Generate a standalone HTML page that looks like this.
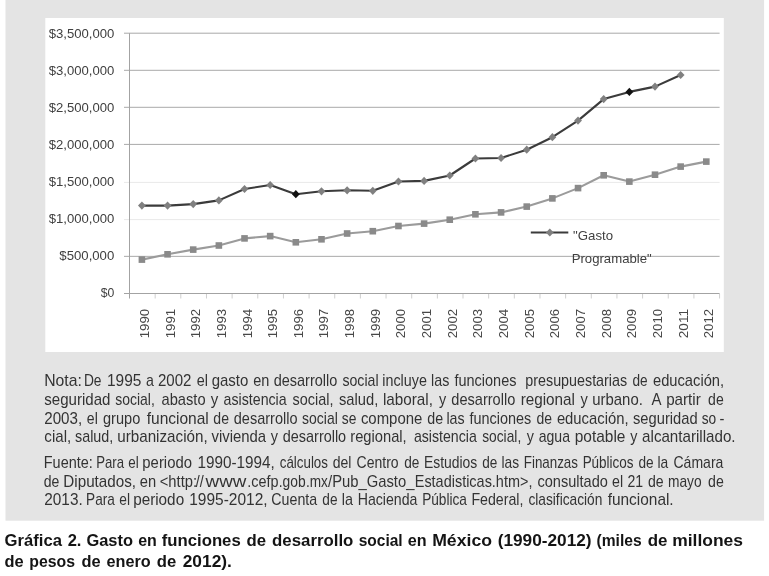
<!DOCTYPE html>
<html lang="es"><head><meta charset="utf-8"><title>Gráfica 2</title>
<style>html,body{margin:0;padding:0;background:#fff;}body{width:769px;height:576px;overflow:hidden;font-family:"Liberation Sans", sans-serif;}svg{display:block;will-change:transform;}text{font-family:"Liberation Sans", sans-serif;white-space:pre;}</style>
</head><body>
<svg width="769" height="576" viewBox="0 0 769 576">
<rect x="0" y="0" width="769" height="576" fill="#ffffff"/>
<rect x="5.5" y="-1" width="758.6" height="521.7" fill="#e4e4e4"/>
<rect x="45.3" y="18" width="678.5" height="334" fill="#ffffff"/>
<g stroke-width="1">
<line x1="124.0" y1="256.35" x2="719.6" y2="256.35" stroke="#a9a9a9"/>
<line x1="124.0" y1="219.60" x2="719.6" y2="219.60" stroke="#e9e9e9"/>
<line x1="124.0" y1="182.40" x2="719.6" y2="182.40" stroke="#e9e9e9"/>
<line x1="124.0" y1="144.40" x2="719.6" y2="144.40" stroke="#a9a9a9"/>
<line x1="124.0" y1="107.30" x2="719.6" y2="107.30" stroke="#a9a9a9"/>
<line x1="124.0" y1="70.30" x2="719.6" y2="70.30" stroke="#a9a9a9"/>
<line x1="124.0" y1="33.20" x2="719.6" y2="33.20" stroke="#a9a9a9"/>
<line x1="129.5" y1="33.20" x2="129.5" y2="298.50" stroke="#a3a3a3"/>
<line x1="124.0" y1="293.50" x2="719.6" y2="293.50" stroke="#a3a3a3"/>
<line x1="155.16" y1="294.00" x2="155.16" y2="298.50" stroke="#cfcfcf"/>
<line x1="180.81" y1="294.00" x2="180.81" y2="298.50" stroke="#cfcfcf"/>
<line x1="206.47" y1="294.00" x2="206.47" y2="298.50" stroke="#cfcfcf"/>
<line x1="232.12" y1="294.00" x2="232.12" y2="298.50" stroke="#cfcfcf"/>
<line x1="257.77" y1="294.00" x2="257.77" y2="298.50" stroke="#cfcfcf"/>
<line x1="283.43" y1="294.00" x2="283.43" y2="298.50" stroke="#cfcfcf"/>
<line x1="309.09" y1="294.00" x2="309.09" y2="298.50" stroke="#cfcfcf"/>
<line x1="334.74" y1="294.00" x2="334.74" y2="298.50" stroke="#cfcfcf"/>
<line x1="360.39" y1="294.00" x2="360.39" y2="298.50" stroke="#cfcfcf"/>
<line x1="386.05" y1="294.00" x2="386.05" y2="298.50" stroke="#cfcfcf"/>
<line x1="411.71" y1="294.00" x2="411.71" y2="298.50" stroke="#cfcfcf"/>
<line x1="437.36" y1="294.00" x2="437.36" y2="298.50" stroke="#cfcfcf"/>
<line x1="463.01" y1="294.00" x2="463.01" y2="298.50" stroke="#cfcfcf"/>
<line x1="488.67" y1="294.00" x2="488.67" y2="298.50" stroke="#cfcfcf"/>
<line x1="514.33" y1="294.00" x2="514.33" y2="298.50" stroke="#cfcfcf"/>
<line x1="539.98" y1="294.00" x2="539.98" y2="298.50" stroke="#cfcfcf"/>
<line x1="565.63" y1="294.00" x2="565.63" y2="298.50" stroke="#cfcfcf"/>
<line x1="591.29" y1="294.00" x2="591.29" y2="298.50" stroke="#cfcfcf"/>
<line x1="616.95" y1="294.00" x2="616.95" y2="298.50" stroke="#cfcfcf"/>
<line x1="642.60" y1="294.00" x2="642.60" y2="298.50" stroke="#cfcfcf"/>
<line x1="668.25" y1="294.00" x2="668.25" y2="298.50" stroke="#cfcfcf"/>
<line x1="693.91" y1="294.00" x2="693.91" y2="298.50" stroke="#cfcfcf"/>
<line x1="719.57" y1="294.00" x2="719.57" y2="298.50" stroke="#cfcfcf"/>
</g>
<g font-size="13.1" fill="#404040" text-anchor="end">
<text x="114.3" y="297.15" textLength="13.6" lengthAdjust="spacingAndGlyphs">$0</text>
<text x="114.3" y="260.08" textLength="55.0" lengthAdjust="spacingAndGlyphs">$500,000</text>
<text x="114.3" y="223.01" textLength="65.6" lengthAdjust="spacingAndGlyphs">$1,000,000</text>
<text x="114.3" y="185.94" textLength="65.6" lengthAdjust="spacingAndGlyphs">$1,500,000</text>
<text x="114.3" y="148.87" textLength="65.6" lengthAdjust="spacingAndGlyphs">$2,000,000</text>
<text x="114.3" y="111.80" textLength="65.6" lengthAdjust="spacingAndGlyphs">$2,500,000</text>
<text x="114.3" y="74.73" textLength="65.6" lengthAdjust="spacingAndGlyphs">$3,000,000</text>
<text x="114.3" y="37.66" textLength="65.6" lengthAdjust="spacingAndGlyphs">$3,500,000</text>
</g>
<g font-size="13.2" fill="#484848">
<text transform="translate(148.90,338.2) rotate(-90)" textLength="29.2" lengthAdjust="spacingAndGlyphs">1990</text>
<text transform="translate(174.56,338.2) rotate(-90)" textLength="29.2" lengthAdjust="spacingAndGlyphs">1991</text>
<text transform="translate(200.21,338.2) rotate(-90)" textLength="29.2" lengthAdjust="spacingAndGlyphs">1992</text>
<text transform="translate(225.87,338.2) rotate(-90)" textLength="29.2" lengthAdjust="spacingAndGlyphs">1993</text>
<text transform="translate(251.52,338.2) rotate(-90)" textLength="29.2" lengthAdjust="spacingAndGlyphs">1994</text>
<text transform="translate(277.18,338.2) rotate(-90)" textLength="29.2" lengthAdjust="spacingAndGlyphs">1995</text>
<text transform="translate(302.83,338.2) rotate(-90)" textLength="29.2" lengthAdjust="spacingAndGlyphs">1996</text>
<text transform="translate(328.49,338.2) rotate(-90)" textLength="29.2" lengthAdjust="spacingAndGlyphs">1997</text>
<text transform="translate(354.14,338.2) rotate(-90)" textLength="29.2" lengthAdjust="spacingAndGlyphs">1998</text>
<text transform="translate(379.80,338.2) rotate(-90)" textLength="29.2" lengthAdjust="spacingAndGlyphs">1999</text>
<text transform="translate(405.45,338.2) rotate(-90)" textLength="29.2" lengthAdjust="spacingAndGlyphs">2000</text>
<text transform="translate(431.11,338.2) rotate(-90)" textLength="29.2" lengthAdjust="spacingAndGlyphs">2001</text>
<text transform="translate(456.76,338.2) rotate(-90)" textLength="29.2" lengthAdjust="spacingAndGlyphs">2002</text>
<text transform="translate(482.41,338.2) rotate(-90)" textLength="29.2" lengthAdjust="spacingAndGlyphs">2003</text>
<text transform="translate(508.07,338.2) rotate(-90)" textLength="29.2" lengthAdjust="spacingAndGlyphs">2004</text>
<text transform="translate(533.73,338.2) rotate(-90)" textLength="29.2" lengthAdjust="spacingAndGlyphs">2005</text>
<text transform="translate(559.38,338.2) rotate(-90)" textLength="29.2" lengthAdjust="spacingAndGlyphs">2006</text>
<text transform="translate(585.03,338.2) rotate(-90)" textLength="29.2" lengthAdjust="spacingAndGlyphs">2007</text>
<text transform="translate(610.69,338.2) rotate(-90)" textLength="29.2" lengthAdjust="spacingAndGlyphs">2008</text>
<text transform="translate(636.35,338.2) rotate(-90)" textLength="29.2" lengthAdjust="spacingAndGlyphs">2009</text>
<text transform="translate(662.00,338.2) rotate(-90)" textLength="29.2" lengthAdjust="spacingAndGlyphs">2010</text>
<text transform="translate(687.65,338.2) rotate(-90)" textLength="29.2" lengthAdjust="spacingAndGlyphs">2011</text>
<text transform="translate(713.31,338.2) rotate(-90)" textLength="29.2" lengthAdjust="spacingAndGlyphs">2012</text>
</g>
<polyline points="141.90,259.60 167.56,254.30 193.21,249.60 218.87,245.50 244.52,238.40 270.18,236.10 295.83,242.30 321.49,239.30 347.14,233.50 372.80,231.20 398.45,226.00 424.11,223.60 449.76,219.70 475.41,214.30 501.07,212.40 526.73,206.60 552.38,198.40 578.03,188.10 603.69,175.30 629.35,181.60 655.00,174.70 680.65,166.60 706.31,161.60" fill="none" stroke="#9b9b9b" stroke-width="2.1" stroke-linejoin="round"/>
<rect x="138.60" y="256.30" width="6.6" height="6.6" fill="#8a8a8a"/>
<rect x="164.25" y="251.00" width="6.6" height="6.6" fill="#8a8a8a"/>
<rect x="189.91" y="246.30" width="6.6" height="6.6" fill="#8a8a8a"/>
<rect x="215.56" y="242.20" width="6.6" height="6.6" fill="#8a8a8a"/>
<rect x="241.22" y="235.10" width="6.6" height="6.6" fill="#8a8a8a"/>
<rect x="266.88" y="232.80" width="6.6" height="6.6" fill="#8a8a8a"/>
<rect x="292.53" y="239.00" width="6.6" height="6.6" fill="#8a8a8a"/>
<rect x="318.19" y="236.00" width="6.6" height="6.6" fill="#8a8a8a"/>
<rect x="343.84" y="230.20" width="6.6" height="6.6" fill="#8a8a8a"/>
<rect x="369.50" y="227.90" width="6.6" height="6.6" fill="#8a8a8a"/>
<rect x="395.15" y="222.70" width="6.6" height="6.6" fill="#8a8a8a"/>
<rect x="420.81" y="220.30" width="6.6" height="6.6" fill="#8a8a8a"/>
<rect x="446.46" y="216.40" width="6.6" height="6.6" fill="#8a8a8a"/>
<rect x="472.11" y="211.00" width="6.6" height="6.6" fill="#8a8a8a"/>
<rect x="497.77" y="209.10" width="6.6" height="6.6" fill="#8a8a8a"/>
<rect x="523.43" y="203.30" width="6.6" height="6.6" fill="#8a8a8a"/>
<rect x="549.08" y="195.10" width="6.6" height="6.6" fill="#8a8a8a"/>
<rect x="574.74" y="184.80" width="6.6" height="6.6" fill="#8a8a8a"/>
<rect x="600.39" y="172.00" width="6.6" height="6.6" fill="#8a8a8a"/>
<rect x="626.05" y="178.30" width="6.6" height="6.6" fill="#8a8a8a"/>
<rect x="651.70" y="171.40" width="6.6" height="6.6" fill="#8a8a8a"/>
<rect x="677.36" y="163.30" width="6.6" height="6.6" fill="#8a8a8a"/>
<rect x="703.01" y="158.30" width="6.6" height="6.6" fill="#8a8a8a"/>
<polyline points="141.90,205.60 167.56,205.60 193.21,204.10 218.87,200.40 244.52,189.00 270.18,185.00 295.83,194.20 321.49,191.30 347.14,190.30 372.80,190.80 398.45,181.50 424.11,180.90 449.76,175.50 475.41,158.50 501.07,158.00 526.73,149.70 552.38,137.20 578.03,120.60 603.69,99.10 629.35,91.90 655.00,86.60 680.65,75.00" fill="none" stroke="#3b3b3b" stroke-width="2.1" stroke-linejoin="round"/>
<path d="M141.90 201.50L145.80 205.60L141.90 209.70L138.00 205.60Z" fill="#808080"/>
<path d="M167.56 201.50L171.46 205.60L167.56 209.70L163.66 205.60Z" fill="#808080"/>
<path d="M193.21 200.00L197.11 204.10L193.21 208.20L189.31 204.10Z" fill="#808080"/>
<path d="M218.87 196.30L222.77 200.40L218.87 204.50L214.97 200.40Z" fill="#808080"/>
<path d="M244.52 184.90L248.42 189.00L244.52 193.10L240.62 189.00Z" fill="#808080"/>
<path d="M270.18 180.90L274.07 185.00L270.18 189.10L266.28 185.00Z" fill="#808080"/>
<path d="M295.83 190.10L299.73 194.20L295.83 198.30L291.93 194.20Z" fill="#111111"/>
<path d="M321.49 187.20L325.38 191.30L321.49 195.40L317.59 191.30Z" fill="#808080"/>
<path d="M347.14 186.20L351.04 190.30L347.14 194.40L343.24 190.30Z" fill="#808080"/>
<path d="M372.80 186.70L376.69 190.80L372.80 194.90L368.90 190.80Z" fill="#808080"/>
<path d="M398.45 177.40L402.35 181.50L398.45 185.60L394.55 181.50Z" fill="#808080"/>
<path d="M424.11 176.80L428.00 180.90L424.11 185.00L420.21 180.90Z" fill="#808080"/>
<path d="M449.76 171.40L453.66 175.50L449.76 179.60L445.86 175.50Z" fill="#808080"/>
<path d="M475.41 154.40L479.31 158.50L475.41 162.60L471.51 158.50Z" fill="#808080"/>
<path d="M501.07 153.90L504.97 158.00L501.07 162.10L497.17 158.00Z" fill="#808080"/>
<path d="M526.73 145.60L530.62 149.70L526.73 153.80L522.83 149.70Z" fill="#808080"/>
<path d="M552.38 133.10L556.28 137.20L552.38 141.30L548.48 137.20Z" fill="#808080"/>
<path d="M578.03 116.50L581.93 120.60L578.03 124.70L574.13 120.60Z" fill="#808080"/>
<path d="M603.69 95.00L607.59 99.10L603.69 103.20L599.79 99.10Z" fill="#808080"/>
<path d="M629.35 87.80L633.25 91.90L629.35 96.00L625.45 91.90Z" fill="#111111"/>
<path d="M655.00 82.50L658.90 86.60L655.00 90.70L651.10 86.60Z" fill="#808080"/>
<path d="M680.65 70.90L684.55 75.00L680.65 79.10L676.75 75.00Z" fill="#808080"/>
<line x1="530.8" y1="232.5" x2="568.3" y2="232.5" stroke="#3b3b3b" stroke-width="2.1"/>
<path d="M549.80 228.40L553.70 232.50L549.80 236.60L545.90 232.50Z" fill="#808080"/>
<text x="573.1" y="240.4" font-size="12.9" fill="#404040" textLength="40" lengthAdjust="spacingAndGlyphs">"Gasto</text>
<text x="571.7" y="262.9" font-size="12.9" fill="#404040" textLength="80" lengthAdjust="spacingAndGlyphs">Programable"</text>
<g font-size="15.9" fill="#333333">
<text x="44.13" y="386.3" textLength="37.66" lengthAdjust="spacingAndGlyphs">Nota:</text>
<text x="83.93" y="386.3" textLength="17.62" lengthAdjust="spacingAndGlyphs">De</text>
<text x="107.03" y="386.3" textLength="34.42" lengthAdjust="spacingAndGlyphs">1995</text>
<text x="145.89" y="386.3" textLength="7.88" lengthAdjust="spacingAndGlyphs">a</text>
<text x="158.00" y="386.3" textLength="33.45" lengthAdjust="spacingAndGlyphs">2002</text>
<text x="196.64" y="386.3" textLength="11.21" lengthAdjust="spacingAndGlyphs">el</text>
<text x="211.70" y="386.3" textLength="36.65" lengthAdjust="spacingAndGlyphs">gasto</text>
<text x="253.21" y="386.3" textLength="16.14" lengthAdjust="spacingAndGlyphs">en</text>
<text x="273.70" y="386.3" textLength="63.65" lengthAdjust="spacingAndGlyphs">desarrollo</text>
<text x="342.40" y="386.3" textLength="36.17" lengthAdjust="spacingAndGlyphs">social</text>
<text x="382.30" y="386.3" textLength="44.55" lengthAdjust="spacingAndGlyphs">incluye</text>
<text x="431.10" y="386.3" textLength="18.25" lengthAdjust="spacingAndGlyphs">las</text>
<text x="454.50" y="386.3" textLength="61.95" lengthAdjust="spacingAndGlyphs">funciones</text>
<text x="525.30" y="386.3" textLength="101.85" lengthAdjust="spacingAndGlyphs">presupuestarias</text>
<text x="632.44" y="386.3" textLength="15.19" lengthAdjust="spacingAndGlyphs">de</text>
<text x="653.00" y="386.3" textLength="71.11" lengthAdjust="spacingAndGlyphs">educación,</text>
<text x="44.30" y="405.0" textLength="66.19" lengthAdjust="spacingAndGlyphs">seguridad</text>
<text x="115.30" y="405.0" textLength="39.54" lengthAdjust="spacingAndGlyphs">social,</text>
<text x="161.50" y="405.0" textLength="44.05" lengthAdjust="spacingAndGlyphs">abasto</text>
<text x="210.73" y="405.0" textLength="7.50" lengthAdjust="spacingAndGlyphs">y</text>
<text x="223.60" y="405.0" textLength="63.06" lengthAdjust="spacingAndGlyphs">asistencia</text>
<text x="292.60" y="405.0" textLength="40.88" lengthAdjust="spacingAndGlyphs">social,</text>
<text x="339.00" y="405.0" textLength="39.31" lengthAdjust="spacingAndGlyphs">salud,</text>
<text x="382.94" y="405.0" textLength="50.02" lengthAdjust="spacingAndGlyphs">laboral,</text>
<text x="438.98" y="405.0" textLength="7.19" lengthAdjust="spacingAndGlyphs">y</text>
<text x="451.30" y="405.0" textLength="63.95" lengthAdjust="spacingAndGlyphs">desarrollo</text>
<text x="520.64" y="405.0" textLength="54.37" lengthAdjust="spacingAndGlyphs">regional</text>
<text x="580.42" y="405.0" textLength="7.31" lengthAdjust="spacingAndGlyphs">y</text>
<text x="592.26" y="405.0" textLength="50.57" lengthAdjust="spacingAndGlyphs">urbano.</text>
<text x="651.41" y="405.0" textLength="10.01" lengthAdjust="spacingAndGlyphs">A</text>
<text x="666.14" y="405.0" textLength="34.58" lengthAdjust="spacingAndGlyphs">partir</text>
<text x="708.11" y="405.0" textLength="15.64" lengthAdjust="spacingAndGlyphs">de</text>
<text x="44.30" y="423.7" textLength="37.85" lengthAdjust="spacingAndGlyphs">2003,</text>
<text x="86.86" y="423.7" textLength="10.95" lengthAdjust="spacingAndGlyphs">el</text>
<text x="103.00" y="423.7" textLength="37.25" lengthAdjust="spacingAndGlyphs">grupo</text>
<text x="146.70" y="423.7" textLength="62.12" lengthAdjust="spacingAndGlyphs">funcional</text>
<text x="213.37" y="423.7" textLength="15.63" lengthAdjust="spacingAndGlyphs">de</text>
<text x="233.80" y="423.7" textLength="63.75" lengthAdjust="spacingAndGlyphs">desarrollo</text>
<text x="302.10" y="423.7" textLength="35.67" lengthAdjust="spacingAndGlyphs">social</text>
<text x="341.73" y="423.7" textLength="14.60" lengthAdjust="spacingAndGlyphs">se</text>
<text x="360.90" y="423.7" textLength="61.45" lengthAdjust="spacingAndGlyphs">compone</text>
<text x="427.31" y="423.7" textLength="15.84" lengthAdjust="spacingAndGlyphs">de</text>
<text x="446.43" y="423.7" textLength="18.19" lengthAdjust="spacingAndGlyphs">las</text>
<text x="469.50" y="423.7" textLength="61.75" lengthAdjust="spacingAndGlyphs">funciones</text>
<text x="536.61" y="423.7" textLength="15.54" lengthAdjust="spacingAndGlyphs">de</text>
<text x="556.90" y="423.7" textLength="71.62" lengthAdjust="spacingAndGlyphs">educación,</text>
<text x="633.00" y="423.7" textLength="64.57" lengthAdjust="spacingAndGlyphs">seguridad</text>
<text x="701.63" y="423.7" textLength="14.50" lengthAdjust="spacingAndGlyphs">so</text>
<text x="719.52" y="423.7" textLength="4.92" lengthAdjust="spacingAndGlyphs">-</text>
<text x="44.36" y="442.3" textLength="26.82" lengthAdjust="spacingAndGlyphs">cial,</text>
<text x="75.00" y="442.3" textLength="38.28" lengthAdjust="spacingAndGlyphs">salud,</text>
<text x="117.24" y="442.3" textLength="90.41" lengthAdjust="spacingAndGlyphs">urbanización,</text>
<text x="211.50" y="442.3" textLength="54.65" lengthAdjust="spacingAndGlyphs">vivienda</text>
<text x="270.66" y="442.3" textLength="7.23" lengthAdjust="spacingAndGlyphs">y</text>
<text x="282.80" y="442.3" textLength="63.35" lengthAdjust="spacingAndGlyphs">desarrollo</text>
<text x="350.27" y="442.3" textLength="56.44" lengthAdjust="spacingAndGlyphs">regional,</text>
<text x="413.90" y="442.3" textLength="62.86" lengthAdjust="spacingAndGlyphs">asistencia</text>
<text x="482.20" y="442.3" textLength="39.03" lengthAdjust="spacingAndGlyphs">social,</text>
<text x="526.85" y="442.3" textLength="7.15" lengthAdjust="spacingAndGlyphs">y</text>
<text x="538.70" y="442.3" textLength="31.26" lengthAdjust="spacingAndGlyphs">agua</text>
<text x="574.73" y="442.3" textLength="50.71" lengthAdjust="spacingAndGlyphs">potable</text>
<text x="630.25" y="442.3" textLength="7.15" lengthAdjust="spacingAndGlyphs">y</text>
<text x="642.10" y="442.3" textLength="93.45" lengthAdjust="spacingAndGlyphs">alcantarillado.</text>
<text x="43.79" y="468.0" textLength="49.00" lengthAdjust="spacingAndGlyphs">Fuente:</text>
<text x="96.15" y="468.0" textLength="27.84" lengthAdjust="spacingAndGlyphs">Para</text>
<text x="128.30" y="468.0" textLength="10.44" lengthAdjust="spacingAndGlyphs">el</text>
<text x="142.36" y="468.0" textLength="49.58" lengthAdjust="spacingAndGlyphs">periodo</text>
<text x="197.43" y="468.0" textLength="77.33" lengthAdjust="spacingAndGlyphs">1990-1994,</text>
<text x="279.80" y="468.0" textLength="48.15" lengthAdjust="spacingAndGlyphs">cálculos</text>
<text x="332.71" y="468.0" textLength="18.74" lengthAdjust="spacingAndGlyphs">del</text>
<text x="356.60" y="468.0" textLength="42.06" lengthAdjust="spacingAndGlyphs">Centro</text>
<text x="404.18" y="468.0" textLength="15.19" lengthAdjust="spacingAndGlyphs">de</text>
<text x="423.93" y="468.0" textLength="53.33" lengthAdjust="spacingAndGlyphs">Estudios</text>
<text x="482.23" y="468.0" textLength="15.11" lengthAdjust="spacingAndGlyphs">de</text>
<text x="501.50" y="468.0" textLength="17.59" lengthAdjust="spacingAndGlyphs">las</text>
<text x="523.76" y="468.0" textLength="54.19" lengthAdjust="spacingAndGlyphs">Finanzas</text>
<text x="582.65" y="468.0" textLength="50.90" lengthAdjust="spacingAndGlyphs">Públicos</text>
<text x="638.48" y="468.0" textLength="15.19" lengthAdjust="spacingAndGlyphs">de</text>
<text x="657.47" y="468.0" textLength="10.75" lengthAdjust="spacingAndGlyphs">la</text>
<text x="673.50" y="468.0" textLength="49.86" lengthAdjust="spacingAndGlyphs">Cámara</text>
<text x="43.77" y="486.7" textLength="15.62" lengthAdjust="spacingAndGlyphs">de</text>
<text x="63.34" y="486.7" textLength="72.71" lengthAdjust="spacingAndGlyphs">Diputados,</text>
<text x="139.71" y="486.7" textLength="16.36" lengthAdjust="spacingAndGlyphs">en</text>
<text x="159.75" y="486.7" textLength="37.31" lengthAdjust="spacingAndGlyphs">&lt;http:</text>
<text x="195.85" y="486.7" textLength="7.97" lengthAdjust="spacingAndGlyphs">//</text>
<text x="205.63" y="486.7" textLength="40.79" lengthAdjust="spacingAndGlyphs">www</text>
<text x="247.35" y="486.7" textLength="31.16" lengthAdjust="spacingAndGlyphs">.cefp</text>
<text x="278.78" y="486.7" textLength="26.93" lengthAdjust="spacingAndGlyphs">.gob</text>
<text x="305.99" y="486.7" textLength="21.91" lengthAdjust="spacingAndGlyphs">.mx</text>
<text x="328.05" y="486.7" textLength="86.32" lengthAdjust="spacingAndGlyphs">/Pub_Gasto_</text>
<text x="414.74" y="486.7" textLength="117.70" lengthAdjust="spacingAndGlyphs">Estadisticas.htm&gt;,</text>
<text x="537.50" y="486.7" textLength="70.35" lengthAdjust="spacingAndGlyphs">consultado</text>
<text x="612.11" y="486.7" textLength="11.06" lengthAdjust="spacingAndGlyphs">el</text>
<text x="627.40" y="486.7" textLength="15.66" lengthAdjust="spacingAndGlyphs">21</text>
<text x="647.90" y="486.7" textLength="15.66" lengthAdjust="spacingAndGlyphs">de</text>
<text x="668.03" y="486.7" textLength="33.62" lengthAdjust="spacingAndGlyphs">mayo</text>
<text x="708.06" y="486.7" textLength="15.74" lengthAdjust="spacingAndGlyphs">de</text>
<text x="44.30" y="505.3" textLength="38.37" lengthAdjust="spacingAndGlyphs">2013.</text>
<text x="86.08" y="505.3" textLength="28.74" lengthAdjust="spacingAndGlyphs">Para</text>
<text x="119.34" y="505.3" textLength="10.68" lengthAdjust="spacingAndGlyphs">el</text>
<text x="133.14" y="505.3" textLength="51.01" lengthAdjust="spacingAndGlyphs">periodo</text>
<text x="189.21" y="505.3" textLength="78.39" lengthAdjust="spacingAndGlyphs">1995-2012,</text>
<text x="271.30" y="505.3" textLength="45.85" lengthAdjust="spacingAndGlyphs">Cuenta</text>
<text x="322.34" y="505.3" textLength="15.19" lengthAdjust="spacingAndGlyphs">de</text>
<text x="341.79" y="505.3" textLength="11.17" lengthAdjust="spacingAndGlyphs">la</text>
<text x="357.71" y="505.3" textLength="59.64" lengthAdjust="spacingAndGlyphs">Hacienda</text>
<text x="422.14" y="505.3" textLength="44.82" lengthAdjust="spacingAndGlyphs">Pública</text>
<text x="471.41" y="505.3" textLength="52.06" lengthAdjust="spacingAndGlyphs">Federal,</text>
<text x="528.40" y="505.3" textLength="73.92" lengthAdjust="spacingAndGlyphs">clasificación</text>
<text x="607.70" y="505.3" textLength="65.97" lengthAdjust="spacingAndGlyphs">funcional.</text>
</g>
<g font-size="17.2" fill="#141414" font-weight="bold">
<text x="4.50" y="545.9" textLength="57.47" lengthAdjust="spacingAndGlyphs">Gráfica</text>
<text x="67.68" y="545.9" textLength="13.79" lengthAdjust="spacingAndGlyphs">2.</text>
<text x="86.40" y="545.9" textLength="46.58" lengthAdjust="spacingAndGlyphs">Gasto</text>
<text x="138.13" y="545.9" textLength="18.61" lengthAdjust="spacingAndGlyphs">en</text>
<text x="161.70" y="545.9" textLength="79.04" lengthAdjust="spacingAndGlyphs">funciones</text>
<text x="246.50" y="545.9" textLength="19.54" lengthAdjust="spacingAndGlyphs">de</text>
<text x="272.10" y="545.9" textLength="81.29" lengthAdjust="spacingAndGlyphs">desarrollo</text>
<text x="358.70" y="545.9" textLength="44.00" lengthAdjust="spacingAndGlyphs">social</text>
<text x="407.83" y="545.9" textLength="18.82" lengthAdjust="spacingAndGlyphs">en</text>
<text x="432.17" y="545.9" textLength="59.84" lengthAdjust="spacingAndGlyphs">México</text>
<text x="497.70" y="545.9" textLength="93.93" lengthAdjust="spacingAndGlyphs">(1990-2012)</text>
<text x="596.50" y="545.9" textLength="45.11" lengthAdjust="spacingAndGlyphs">(miles</text>
<text x="647.66" y="545.9" textLength="19.73" lengthAdjust="spacingAndGlyphs">de</text>
<text x="672.18" y="545.9" textLength="70.78" lengthAdjust="spacingAndGlyphs">millones</text>
<text x="4.58" y="566.9" textLength="19.17" lengthAdjust="spacingAndGlyphs">de</text>
<text x="29.28" y="566.9" textLength="45.74" lengthAdjust="spacingAndGlyphs">pesos</text>
<text x="81.48" y="566.9" textLength="19.17" lengthAdjust="spacingAndGlyphs">de</text>
<text x="106.50" y="566.9" textLength="44.17" lengthAdjust="spacingAndGlyphs">enero</text>
<text x="156.86" y="566.9" textLength="19.43" lengthAdjust="spacingAndGlyphs">de</text>
<text x="182.70" y="566.9" textLength="49.18" lengthAdjust="spacingAndGlyphs">2012).</text>
</g>
</svg>
</body></html>
